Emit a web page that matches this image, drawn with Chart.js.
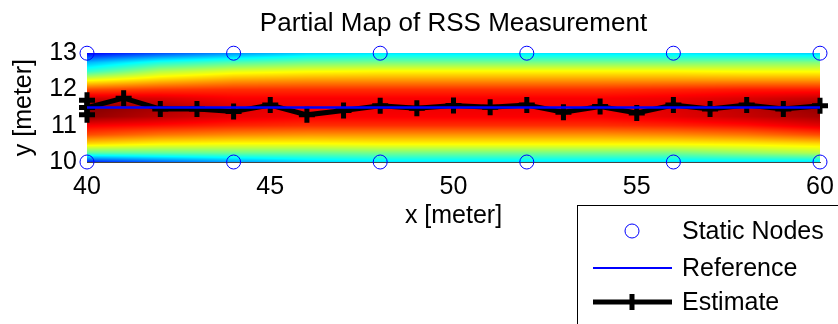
<!DOCTYPE html>
<html>
<head>
<meta charset="utf-8">
<script src="https://cdn.jsdelivr.net/npm/chart.js@4.4.0/dist/chart.umd.min.js"></script>
<style>
  html, body { margin: 0; padding: 0; background: #fff; }
  #wrap { width: 838px; height: 324px; }
</style>
</head>
<body>
<div id="wrap"><canvas id="rss" width="838" height="324"></canvas></div>
<script>
// Data
const nodeX = [40, 44, 48, 52, 56, 60, 40, 44, 48, 52, 56, 60];
const nodeY = [13, 13, 13, 13, 13, 13, 10, 10, 10, 10, 10, 10];

const refX = [40, 60];
const refY = [11.5, 11.5];

const estX = [40, 40, 40, 41, 42, 43, 44, 45, 46, 47, 48, 49, 50, 51, 52, 53, 54, 55, 56, 57, 58, 59, 60];
const estY = [11.3, 11.7, 11.5, 11.76, 11.46, 11.46, 11.39, 11.57, 11.3, 11.42, 11.55, 11.48, 11.56, 11.51, 11.57, 11.37, 11.53, 11.35, 11.57, 11.46, 11.57, 11.46, 11.55];

const xTicks = [40, 45, 50, 55, 60];
const yTicks = [10, 11, 12, 13];

// RSS map, normalised colour index (0 = dark blue, 1 = dark red)
const mapX = [40, 42, 44, 46, 48, 50, 52, 54, 56, 58, 60];
const mapY = [10, 10.25, 10.5, 10.75, 11, 11.25, 11.5, 11.75, 12, 12.25, 12.5, 12.75, 13];
const mapV = [
  [0.15, 0.22, 0.28, 0.33, 0.35, 0.35, 0.35, 0.35, 0.35, 0.35, 0.35], // 10
  [0.46, 0.47, 0.48, 0.48, 0.49, 0.49, 0.49, 0.49, 0.49, 0.52, 0.55], // 10.25
  [0.66, 0.63, 0.62, 0.62, 0.63, 0.63, 0.63, 0.63, 0.63, 0.64, 0.66], // 10.5
  [0.80, 0.76, 0.74, 0.73, 0.73, 0.73, 0.73, 0.73, 0.74, 0.76, 0.80], // 10.75
  [0.88, 0.86, 0.84, 0.83, 0.83, 0.83, 0.83, 0.83, 0.84, 0.86, 0.90], // 11
  [0.98, 0.94, 0.90, 0.88, 0.88, 0.88, 0.88, 0.88, 0.90, 0.93, 0.96], // 11.25
  [1.00, 0.96, 0.91, 0.89, 0.89, 0.89, 0.89, 0.89, 0.91, 0.94, 0.98], // 11.5
  [0.92, 0.91, 0.88, 0.88, 0.88, 0.88, 0.88, 0.88, 0.89, 0.91, 0.93], // 11.75
  [0.80, 0.82, 0.83, 0.83, 0.83, 0.83, 0.83, 0.83, 0.84, 0.85, 0.85], // 12
  [0.62, 0.68, 0.72, 0.73, 0.73, 0.73, 0.73, 0.73, 0.73, 0.73, 0.73], // 12.25
  [0.42, 0.55, 0.60, 0.62, 0.63, 0.63, 0.63, 0.63, 0.63, 0.62, 0.62], // 12.5
  [0.30, 0.40, 0.45, 0.48, 0.49, 0.49, 0.49, 0.49, 0.49, 0.50, 0.50], // 12.75
  [0.12, 0.20, 0.27, 0.33, 0.35, 0.35, 0.35, 0.35, 0.35, 0.34, 0.33]  // 13
];

const legendLabels = ['Static Nodes', 'Reference', 'Estimate'];

const FONT = 'Liberation Sans, Arial, sans-serif';

function jet(v) {
  const c = (t) => Math.max(0, Math.min(1, t));
  return [
    Math.round(255 * c(1.5 - Math.abs(4 * v - 3))),
    Math.round(255 * c(1.5 - Math.abs(4 * v - 2))),
    Math.round(255 * c(1.5 - Math.abs(4 * v - 1)))
  ];
}

function locate(arr, v) {
  let i = 0;
  while (i < arr.length - 2 && v > arr[i + 1]) i++;
  let t = (v - arr[i]) / (arr[i + 1] - arr[i]);
  return [i, Math.max(0, Math.min(1, t))];
}

function sampleMap(xv, yv) {
  const [i, tx] = locate(mapX, xv);
  const [j, ty] = locate(mapY, yv);
  const a = mapV[j][i] * (1 - tx) + mapV[j][i + 1] * tx;
  const b = mapV[j + 1][i] * (1 - tx) + mapV[j + 1][i + 1] * tx;
  return a * (1 - ty) + b * ty;
}

const heatmapPlugin = {
  id: 'heatmap',
  beforeDatasetsDraw(chart) {
    const { ctx, chartArea: a, scales } = chart;
    const left = Math.round(a.left), top = Math.round(a.top);
    const w = Math.round(a.right) - left, h = Math.round(a.bottom) - top;
    const off = document.createElement('canvas');
    off.width = w; off.height = h;
    const octx = off.getContext('2d');
    const img = octx.createImageData(w, h);
    for (let py = 0; py < h; py++) {
      const yv = scales.y.getValueForPixel(top + py + 0.5);
      for (let px = 0; px < w; px++) {
        const xv = scales.x.getValueForPixel(left + px + 0.5);
        const [r, g, b] = jet(sampleMap(xv, yv));
        const k = (py * w + px) * 4;
        img.data[k] = r; img.data[k + 1] = g; img.data[k + 2] = b; img.data[k + 3] = 255;
      }
    }
    octx.putImageData(img, 0, 0);
    ctx.drawImage(off, left, top);
  }
};

const legendBoxPlugin = {
  id: 'legendBox',
  afterDraw(chart) {
    const ctx = chart.ctx;
    ctx.save();
    ctx.fillStyle = '#fff';
    ctx.fillRect(577, 205, 270, 130);
    ctx.strokeStyle = '#000';
    ctx.lineWidth = 1;
    ctx.strokeRect(577.5, 205.5, 270, 130);

    const rows = [231, 268, 302];
    // static nodes
    ctx.strokeStyle = '#0000ff';
    ctx.lineWidth = 1;
    ctx.beginPath();
    ctx.arc(632, rows[0], 7, 0, Math.PI * 2);
    ctx.stroke();
    // reference
    ctx.lineWidth = 2;
    ctx.beginPath();
    ctx.moveTo(593, rows[1]); ctx.lineTo(672, rows[1]);
    ctx.stroke();
    // estimate
    ctx.strokeStyle = '#000';
    ctx.lineWidth = 5;
    ctx.beginPath();
    ctx.moveTo(593, rows[2]); ctx.lineTo(672, rows[2]);
    ctx.moveTo(632, rows[2] - 8); ctx.lineTo(632, rows[2] + 8);
    ctx.stroke();

    ctx.fillStyle = '#000';
    ctx.font = '25px ' + FONT;
    ctx.textBaseline = 'middle';
    ctx.textAlign = 'left';
    legendLabels.forEach((t, i) => ctx.fillText(t, 682, rows[i] + 1));
    ctx.restore();
  }
};

const ctx = document.getElementById('rss').getContext('2d');

new Chart(ctx, {
  type: 'scatter',
  data: {
    datasets: [
      {
        label: legendLabels[0],
        data: nodeX.map((x, i) => ({ x: x, y: nodeY[i] })),
        showLine: false,
        pointStyle: 'circle',
        pointRadius: 7,
        pointBorderWidth: 1,
        pointBorderColor: '#0000ff',
        pointBackgroundColor: 'rgba(0,0,0,0)',
        clip: false
      },
      {
        label: legendLabels[1],
        data: refX.map((x, i) => ({ x: x, y: refY[i] })),
        showLine: true,
        borderColor: '#0000ff',
        borderWidth: 2.5,
        pointRadius: 0,
        clip: false
      },
      {
        label: legendLabels[2],
        data: estX.map((x, i) => ({ x: x, y: estY[i] })),
        showLine: true,
        borderColor: '#000',
        borderWidth: 5,
        pointStyle: 'cross',
        pointRadius: 8,
        pointBorderWidth: 5,
        pointBorderColor: '#000',
        pointBackgroundColor: '#000',
        clip: false
      }
    ]
  },
  options: {
    responsive: false,
    animation: false,
    layout: { padding: { left: 0, right: 18, top: 0, bottom: 93 } },
    plugins: {
      legend: { display: false },
      tooltip: { enabled: false },
      title: {
        display: true,
        fullSize: false,
        text: 'Partial Map of RSS Measurement',
        color: '#000',
        font: { family: FONT, size: 26, weight: 'normal', lineHeight: 1.2 },
        padding: { top: 8, bottom: 14 }
      }
    },
    scales: {
      x: {
        type: 'linear',
        min: 40,
        max: 60,
        afterFit: (s) => { s.height = 69; s.paddingLeft = 0; s.paddingRight = 0; },
        afterBuildTicks: (s) => { s.ticks = xTicks.map(v => ({ value: v })); },
        grid: { display: false, drawTicks: false },
        border: { display: true, color: '#444', width: 1 },
        ticks: { color: '#000', padding: 10, font: { family: FONT, size: 25 } },
        title: {
          display: true,
          text: 'x [meter]',
          color: '#000',
          font: { family: FONT, size: 25 },
          padding: { top: 0, bottom: 0 }
        }
      },
      y: {
        type: 'linear',
        min: 10,
        max: 13,
        afterFit: (s) => { s.width = 87; s.paddingTop = 0; s.paddingBottom = 0; },
        afterBuildTicks: (s) => { s.ticks = yTicks.map(v => ({ value: v })); },
        grid: { display: false, drawTicks: false },
        border: { display: true, color: '#444', width: 1 },
        ticks: { color: '#000', padding: 10, font: { family: FONT, size: 25 } },
        title: {
          display: true,
          text: 'y [meter]',
          color: '#000',
          font: { family: FONT, size: 25 },
          padding: { top: 9, bottom: 0 }
        }
      }
    }
  },
  plugins: [heatmapPlugin, legendBoxPlugin]
});
</script>
</body>
</html>
